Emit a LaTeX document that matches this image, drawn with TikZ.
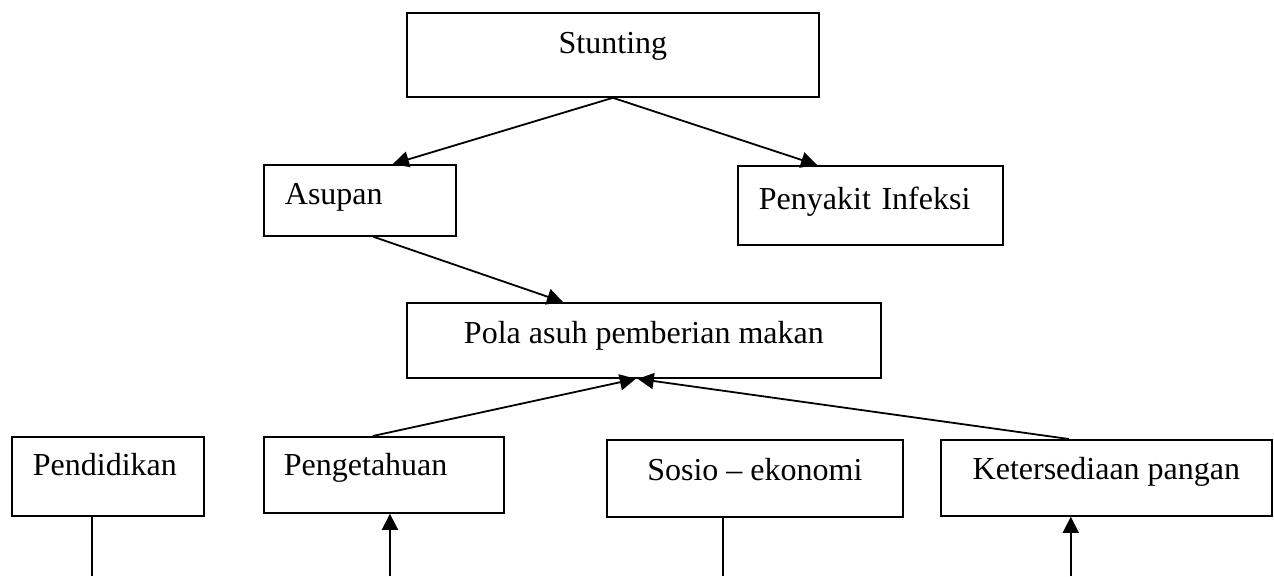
\documentclass[tikz,border=0pt]{standalone}
\usepackage{fontspec}
\setmainfont{Liberation Serif}
\usetikzlibrary{arrows.meta,calc}
\begin{document}
\begin{tikzpicture}[x=1pt,y=-1pt,
  box/.style={draw, line width=1.8pt, inner ysep=0pt, anchor=north west,
    font=\fontsize{32}{38}\selectfont},
  cbox/.style={inner xsep=0pt, minimum width=#1},
  lbox/.style={inner xsep=21pt, text width=#1, align=left},
  conn/.style={line width=1.8pt},
  arr/.style={conn, -{Triangle[length=16pt,width=16pt]}}]
\useasboundingbox (0,0) rectangle (1274,576);

\node[box, cbox=412pt, text height=41pt, text depth=43pt] (stunting) at (406,12) {Stunting};
\node[box, lbox=150pt, text height=40pt, text depth=31pt] (asupan) at (263,164) {Asupan};
\node[box, lbox=223pt, text height=44pt, text depth=35pt] (penyakit) at (737,165) {Penyakit Infeksi};
\node[box, cbox=474pt, text height=41pt, text depth=34pt] (pola) at (406,302) {Pola asuh pemberian makan};
\node[box, lbox=150pt, text height=39pt, text depth=40pt] (pendidikan) at (11,436) {Pendidikan};
\node[box, lbox=200pt, inner xsep=20pt, text height=39pt, text depth=37pt] (pengetahuan) at (263,436) {Pengetahuan};
\node[box, cbox=296pt, text height=41pt, text depth=36pt] (sosio) at (606,439) {Sosio – ekonomi};
\node[box, cbox=331pt, text height=40pt, text depth=36pt] (ketersediaan) at (940,439) {Ketersediaan pangan};

\coordinate (endA) at ($(pendidikan.south west)!0.42!(pendidikan.south east)$);
\coordinate (freeA) at (endA |- 0,576);
\coordinate (endB) at ($(pengetahuan.south west)!0.525!(pengetahuan.south east)$);
\coordinate (freeB) at (endB |- 0,576);
\coordinate (endC) at ($(sosio.south west)!0.392!(sosio.south east)$);
\coordinate (freeC) at (endC |- 0,576);
\coordinate (endD) at ($(ketersediaan.south west)!0.393!(ketersediaan.south east)$);
\coordinate (freeD) at (endD |- 0,576);

\draw[arr] (stunting.south) -- ($(asupan.north west)!0.67!(asupan.north east)$);
\draw[arr] (stunting.south) -- ($(penyakit.north west)!0.30!(penyakit.north east)$);
\draw[arr] ($(asupan.south west)!0.57!(asupan.south east)$) -- ($(pola.north west)!0.33!(pola.north east)$);
\draw[arr] ($(pengetahuan.north west)!0.454!(pengetahuan.north east)$) -- ($(pola.south west)!0.483!(pola.south east)$);
\draw[arr] ($(ketersediaan.north west)!0.387!(ketersediaan.north east)$) -- ($(pola.south west)!0.487!(pola.south east)$);

\draw[conn] (endA) -- (freeA);
\draw[arr] (freeB) -- (endB);
\draw[conn] (endC) -- (freeC);
\draw[arr] (freeD) -- (endD);
\end{tikzpicture}
\end{document}
